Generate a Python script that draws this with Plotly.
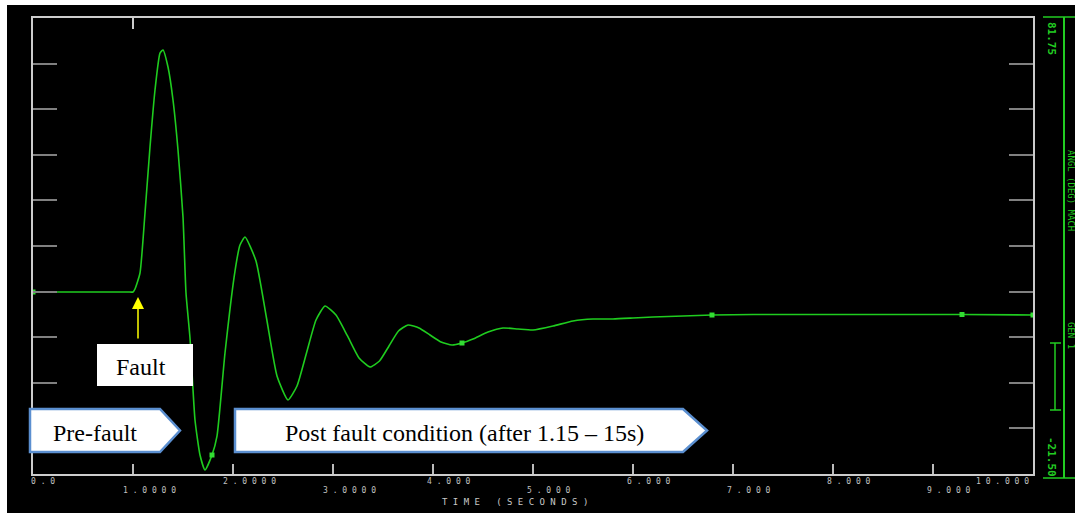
import plotly.graph_objects as go

# ---- data ----
time_s = [0.00, 0.50, 0.95, 1.00, 1.02, 1.07, 1.12, 1.17, 1.22, 1.27, 1.30, 1.35, 1.40, 1.45,
          1.50, 1.53, 1.57, 1.62, 1.67, 1.72, 1.79, 1.84, 1.92, 2.02, 2.07, 2.12, 2.23,
          2.335, 2.44, 2.55, 2.64, 2.735, 2.83, 2.92, 3.03, 3.145, 3.26, 3.37, 3.465,
          3.56, 3.655, 3.75, 3.86, 3.97, 4.08, 4.19, 4.29, 4.40, 4.55, 4.70, 4.85, 5.00,
          5.20, 5.40, 5.60, 5.80, 6.00, 6.20, 6.50, 6.79, 7.20, 8.00, 9.29, 10.00]
angle_deg = [19.71, 19.71, 19.71, 19.71, 20.39, 24.01, 37.60, 52.54, 65.45, 73.82, 74.50, 70.65, 63.18, 51.86,
             36.69, 19.48, 9.29, -9.27, -17.20, -20.59, -17.20, -12.90, 5.90, 24.46, 30.35, 32.16, 26.73,
             13.82, 0.69, -4.74, -1.57, 5.90, 13.37, 16.54, 14.50, 9.75, 4.77, 2.73, 4.09,
             7.48, 10.88, 12.24, 11.56, 9.97, 8.39, 7.71, 8.16, 9.07, 10.65, 11.56, 11.33, 11.11,
             12.01, 13.14, 13.60, 13.60, 13.82, 14.05, 14.28, 14.50, 14.61, 14.61, 14.61, 14.50]
marker_t = [0.00, 1.79, 4.29, 6.79, 9.29, 10.00]
marker_v = [19.71, -17.20, 8.16, 14.50, 14.61, 14.50]

x_tick_vals = [0, 1, 2, 3, 4, 5, 6, 7, 8, 9, 10]
x_tick_text = ["0.0", "1.0000", "2.0000", "3.0000", "4.000", "5.000",
               "6.000", "7.000", "8.000", "9.000", "10.000"]
y_min, y_max = -21.50, 81.75
y_top_label, y_bot_label = "81.75", "-21.50"
x_title = "TIME (SECONDS)"
right_title = "ANGL (DEG) MACH"
right_sub = "GEN 1"

# ---- layout geometry (pixels) ----
W, H = 1075, 513
L, R, T, B = 33, 1033, 18, 474


def px(xp):
    return (xp - L) / (R - L)


def py(yp):
    return (B - yp) / (B - T)


def spaced(s):
    return " ".join(list(s))


fig = go.Figure()
fig.add_trace(go.Scatter(x=time_s, y=angle_deg, mode="lines",
                         line=dict(color="#1fcc1f", width=1.6, shape="spline", smoothing=0.5),
                         hoverinfo="skip", showlegend=False))
fig.add_trace(go.Scatter(x=marker_t, y=marker_v, mode="markers",
                         marker=dict(symbol="square", size=5, color="#33dd33"),
                         hoverinfo="skip", showlegend=False))

shapes = []
# black panel
shapes.append(dict(type="rect", xref="paper", yref="paper", x0=px(7), x1=px(1075), y0=py(5), y1=py(513),
                   fillcolor="black", line=dict(width=0), layer="below"))
# top tick at t=1
shapes.append(dict(type="line", xref="x", yref="paper", x0=1, x1=1, y0=1, y1=py(T + 11),
                   line=dict(color="#cccccc", width=2)))
# right green scale bar
g = "#22cc22"
shapes.append(dict(type="line", xref="paper", yref="paper", x0=px(1064), x1=px(1064), y0=py(17), y1=py(478),
                   line=dict(color=g, width=2)))
for yy in (17, 478):
    shapes.append(dict(type="line", xref="paper", yref="paper", x0=px(1043), x1=px(1075), y0=py(yy), y1=py(yy),
                       line=dict(color=g, width=1.5)))
# small I-beam
shapes.append(dict(type="line", xref="paper", yref="paper", x0=px(1055), x1=px(1055), y0=py(343), y1=py(410),
                   line=dict(color=g, width=1.5)))
for yy in (343, 410):
    shapes.append(dict(type="line", xref="paper", yref="paper", x0=px(1050), x1=px(1061), y0=py(yy), y1=py(yy),
                       line=dict(color=g, width=1.5)))
# Fault box
shapes.append(dict(type="rect", xref="paper", yref="paper", x0=px(97), x1=px(193), y0=py(386), y1=py(344),
                   fillcolor="white", line=dict(width=0), layer="above"))


def pentagon(x0, x1, tip, y0, y1):
    ym = (y0 + y1) / 2
    pts = [(x0, y0), (x1, y0), (tip, ym), (x1, y1), (x0, y1)]
    d = "M " + " L ".join(f"{px(a):.5f},{py(b):.5f}" for a, b in pts) + " Z"
    return dict(type="path", xref="paper", yref="paper", path=d, fillcolor="white",
                line=dict(color="#5b8fd0", width=2.5), layer="above")


shapes.append(pentagon(30, 160, 180, 409, 452))
shapes.append(pentagon(235, 683, 707, 409, 452))

ann = []
serif = dict(family="Liberation Serif", size=24, color="black")
C = dict(xanchor="center", yanchor="middle", showarrow=False)
ann.append(dict(xref="paper", yref="paper", x=px(141), y=py(367), text="Fault", font=serif, **C))
ann.append(dict(xref="paper", yref="paper", x=px(95), y=py(433), text="Pre-fault", font=serif, **C))
ann.append(dict(xref="paper", yref="paper", x=px(464), y=py(433),
                text="Post fault condition (after 1.15 – 15s)", font=serif, **C))
# yellow arrow
ann.append(dict(xref="paper", yref="paper", x=px(138), y=py(297), ax=0, ay=43, text="", showarrow=True,
                arrowhead=2, arrowsize=1.6, arrowwidth=1.5, arrowcolor="#ffff00"))
# staggered tick labels
tick_font = dict(family="DejaVu Sans Mono", size=8, color="#c0c0c0")
for i, (v, s) in enumerate(zip(x_tick_vals, x_tick_text)):
    row_y = 481 if i % 2 == 0 else 490
    shift = 10 if i == 0 else (-31 if i == len(x_tick_vals) - 1 else 16)
    ann.append(dict(xref="x", yref="paper", x=v, y=py(row_y), xshift=shift, text=spaced(s),
                    font=tick_font, **C))
ann.append(dict(xref="paper", yref="paper", x=px(515), y=py(502), text=spaced(x_title),
                font=dict(family="DejaVu Sans Mono", size=9, color="#c8c8c8"), **C))
# right green labels
gfont = dict(family="DejaVu Sans Mono", size=11, color=g)
ann.append(dict(xref="paper", yref="paper", x=px(1052), y=py(38), text="<b>" + y_top_label + "</b>",
                textangle=90, font=gfont, **C))
ann.append(dict(xref="paper", yref="paper", x=px(1052), y=py(457), text="<b>" + y_bot_label + "</b>",
                textangle=90, font=gfont, **C))
ann.append(dict(xref="paper", yref="paper", x=px(1071), y=py(190), text=right_title, textangle=90,
                font=dict(family="DejaVu Sans Mono", size=9, color=g), **C))
ann.append(dict(xref="paper", yref="paper", x=px(1071), y=py(335), text=right_sub, textangle=90,
                font=dict(family="DejaVu Sans Mono", size=9, color=g), **C))

fig.update_layout(
    width=W, height=H, margin=dict(l=L, r=W - R, t=T, b=H - B, pad=0),
    paper_bgcolor="white", plot_bgcolor="black",
    shapes=shapes, annotations=ann, showlegend=False,
    xaxis=dict(range=[0, 10], tickvals=x_tick_vals, ticks="inside", ticklen=10, tickwidth=2,
               tickcolor="#bbbbbb", showticklabels=False, showgrid=False, zeroline=False,
               showline=True, linecolor="#cccccc", linewidth=2, mirror=True),
    yaxis=dict(range=[y_min, y_max], tick0=y_min, dtick=(y_max - y_min) / 10, ticks="inside",
               ticklen=24, tickwidth=2, tickcolor="#808080", showticklabels=False, showgrid=False,
               zeroline=False, showline=True, linecolor="#cccccc", linewidth=2, mirror="ticks"),
)
fig.write_html("out.html", config={"displayModeBar": False})
